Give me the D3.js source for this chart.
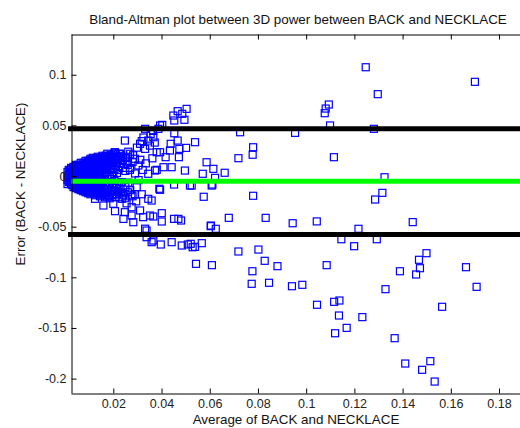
<!DOCTYPE html>
<html>
<head>
<meta charset="utf-8">
<script src="https://cdn.jsdelivr.net/npm/d3@7/dist/d3.min.js"></script>
<style>
  body { margin: 0; background: #fff; }
  svg { display: block; font-family: "Liberation Sans", Arial, sans-serif; }
</style>
</head>
<body>
<svg id="chart" width="520" height="428"></svg>
<script>
// Bland-Altman: [average, difference] pairs
const denseCluster = [
  [0.001, -0.004], [0.001, 0.000], [0.001, 0.004], [0.001, -0.008],
  [0.002, -0.006], [0.002, -0.002], [0.002, 0.002], [0.002, 0.006],
  [0.003, -0.009], [0.003, -0.005], [0.003, -0.001], [0.003, 0.003], [0.003, 0.007],
  [0.004, -0.010], [0.004, -0.006], [0.004, -0.002], [0.004, 0.002], [0.004, 0.006], [0.004, 0.009],
  [0.005, -0.011], [0.005, -0.007], [0.005, -0.003], [0.005, 0.001], [0.005, 0.005], [0.005, 0.010],
  [0.006, -0.012], [0.006, -0.008], [0.006, -0.004], [0.006, 0.000], [0.006, 0.004], [0.006, 0.008], [0.006, 0.011],
  [0.007, -0.013], [0.007, -0.009], [0.007, -0.005], [0.007, -0.001], [0.007, 0.003], [0.007, 0.007], [0.007, 0.011],
  [0.008, -0.014], [0.008, -0.010], [0.008, -0.006], [0.008, -0.002], [0.008, 0.002], [0.008, 0.006], [0.008, 0.010], [0.008, 0.013],
  [0.009, -0.015], [0.009, -0.011], [0.009, -0.007], [0.009, -0.003], [0.009, 0.001], [0.009, 0.005], [0.009, 0.009], [0.009, 0.013],
  [0.010, -0.016], [0.010, -0.012], [0.010, -0.008], [0.010, -0.004], [0.010, 0.000], [0.010, 0.004], [0.010, 0.008], [0.010, 0.012], [0.010, 0.015],
  [0.011, -0.014], [0.011, -0.009], [0.011, 0.003], [0.011, 0.010], [0.011, 0.016],
  [0.012, -0.017], [0.012, -0.011], [0.012, -0.005], [0.012, 0.001], [0.012, 0.007], [0.012, 0.013],
  [0.013, -0.015], [0.013, -0.008], [0.013, 0.005], [0.013, 0.011], [0.013, 0.017],
  [0.014, -0.018], [0.014, -0.012], [0.014, -0.003], [0.014, 0.002], [0.014, 0.009], [0.014, 0.014],
  [0.015, -0.016], [0.015, -0.009], [0.015, 0.006], [0.015, 0.012], [0.015, 0.018],
  [0.016, -0.019], [0.016, -0.013], [0.016, -0.004], [0.016, 0.003], [0.016, 0.010], [0.016, 0.016],
  [0.017, -0.017], [0.017, -0.007], [0.017, 0.007], [0.017, 0.013], [0.017, 0.020],
  [0.018, -0.020], [0.018, -0.011], [0.018, 0.001], [0.018, 0.011], [0.018, 0.017],
  [0.019, -0.014], [0.019, -0.003], [0.019, 0.008], [0.019, 0.015], [0.019, 0.021],
  [0.020, -0.018], [0.020, -0.009], [0.020, 0.004], [0.020, 0.013], [0.020, 0.019],
  [0.021, -0.021], [0.021, -0.012], [0.021, 0.010], [0.021, 0.022],
  [0.022, -0.016], [0.022, 0.006], [0.022, 0.017],
  [0.023, -0.013], [0.023, 0.012], [0.023, 0.020],
  [0.024, -0.019], [0.024, 0.008], [0.024, 0.016],
  [0.026, -0.016], [0.026, 0.011], [0.026, 0.019],
  [0.028, 0.014], [0.028, -0.020]
];

// points in between the ones above (the blob reads as solid blue)
const denseFill = [
  [0.0015, -0.006], [0.0015, -0.002], [0.0015, 0.002], [0.0015, 0.006],
  [0.0025, -0.008], [0.0025, -0.004], [0.0025, 0.000], [0.0025, 0.004], [0.0025, 0.008],
  [0.0035, -0.011], [0.0035, -0.007], [0.0035, -0.003], [0.0035, 0.001], [0.0035, 0.005], [0.0035, 0.009],
  [0.0045, -0.012], [0.0045, -0.008], [0.0045, -0.004], [0.0045, 0.000], [0.0045, 0.004], [0.0045, 0.008], [0.0045, 0.011],
  [0.0055, -0.013], [0.0055, -0.009], [0.0055, -0.005], [0.0055, -0.001], [0.0055, 0.003], [0.0055, 0.007], [0.0055, 0.011],
  [0.0065, -0.014], [0.0065, -0.010], [0.0065, -0.006], [0.0065, -0.002], [0.0065, 0.002], [0.0065, 0.006], [0.0065, 0.010], [0.0065, 0.013],
  [0.0075, -0.015], [0.0075, -0.011], [0.0075, -0.007], [0.0075, -0.003], [0.0075, 0.001], [0.0075, 0.005], [0.0075, 0.009], [0.0075, 0.013],
  [0.0085, -0.016], [0.0085, -0.012], [0.0085, -0.008], [0.0085, -0.004], [0.0085, 0.000], [0.0085, 0.004], [0.0085, 0.008], [0.0085, 0.012], [0.0085, 0.015],
  [0.0095, -0.017], [0.0095, -0.013], [0.0095, -0.009], [0.0095, -0.005], [0.0095, -0.001], [0.0095, 0.003], [0.0095, 0.007], [0.0095, 0.011], [0.0095, 0.015],
  [0.0105, -0.018], [0.0105, -0.014], [0.0105, -0.010], [0.0105, -0.006], [0.0105, -0.002], [0.0105, 0.002], [0.0105, 0.006], [0.0105, 0.010], [0.0105, 0.014], [0.0105, 0.017],
  [0.0115, -0.016], [0.0115, -0.012], [0.0115, -0.007], [0.0115, -0.002], [0.0115, 0.005], [0.0115, 0.008], [0.0115, 0.013], [0.0115, 0.018],
  [0.0125, -0.019], [0.0125, -0.014], [0.0125, -0.008], [0.0125, -0.002], [0.0125, 0.004], [0.0125, 0.010], [0.0125, 0.016],
  [0.0135, -0.017], [0.0135, -0.011], [0.0135, -0.005], [0.0135, 0.000], [0.0135, 0.007], [0.0135, 0.014], [0.0135, 0.019],
  [0.0145, -0.020], [0.0145, -0.015], [0.0145, -0.008], [0.0145, 0.000], [0.0145, 0.005], [0.0145, 0.011], [0.0145, 0.017],
  [0.0155, -0.018], [0.0155, -0.012], [0.0155, -0.006], [0.0155, 0.002], [0.0155, 0.009], [0.0155, 0.015], [0.0155, 0.020],
  [0.0165, -0.021], [0.0165, -0.016], [0.0165, -0.009], [0.0165, 0.000], [0.0165, 0.006], [0.0165, 0.013], [0.0165, 0.019],
  [0.0175, -0.019], [0.0175, -0.013], [0.0175, -0.003], [0.0175, 0.004], [0.0175, 0.010], [0.0175, 0.016], [0.0175, 0.022],
  [0.0185, -0.022], [0.0185, -0.016], [0.0185, -0.007], [0.0185, 0.006], [0.0185, 0.014], [0.0185, 0.020],
  [0.0195, -0.019], [0.0195, -0.011], [0.0195, 0.001], [0.0195, 0.011], [0.0195, 0.018],
  [0.0205, -0.015], [0.0205, -0.005], [0.0205, 0.007], [0.0205, 0.016], [0.0205, 0.023],
  [0.0215, -0.018], [0.0215, -0.008], [0.0215, 0.003], [0.0215, 0.013], [0.0215, 0.019],
  [0.0225, -0.021], [0.0225, -0.010], [0.0225, 0.009], [0.0225, 0.022],
  [0.0235, -0.017], [0.0235, -0.006], [0.0235, 0.015],
  [0.025, -0.022], [0.025, -0.011], [0.025, 0.005], [0.025, 0.018],
  [0.027, -0.014], [0.027, 0.008], [0.027, 0.022],
  [0.029, -0.018], [0.029, 0.017]
];

const midCluster = [
  [0.0117, 0.0153], [0.0159, 0.017], [0.0186, 0.0186], [0.0207, 0.0235], [0.0221, 0.0186], [0.0145, 0.012],
  [0.0124, -0.0225], [0.0159, -0.0291], [0.020, -0.0274], [0.0235, -0.0225], [0.0207, -0.0347], [0.0248, -0.0357],
  [0.0276, -0.0308], [0.0242, -0.0423], [0.0276, -0.039], [0.0311, -0.034], [0.0283, -0.0456], [0.0324, -0.0406],
  [0.0352, -0.039], [0.0338, -0.0538], [0.0332, -0.052], [0.0338, -0.0604], [0.0359, -0.0653],
  [0.0332, 0.0466], [0.0394, 0.0499], [0.0248, 0.035], [0.0311, 0.0318], [0.0345, 0.035], [0.0332, 0.0268],
  [0.038, 0.0235], [0.0435, 0.0252], [0.0228, 0.0219], [0.0304, 0.0104], [0.0345, 0.0022], [0.038, 0.0061],
  [0.0269, 0.0061], [0.0391, -0.0126], [0.0345, -0.0225], [0.0297, -0.011],
  [0.0325, 0.038], [0.0355, 0.0415], [0.0365, 0.0445], [0.0318, 0.0345], [0.0352, 0.030], [0.0372, 0.033],
  [0.0298, 0.028], [0.0262, 0.024], [0.0282, 0.0205], [0.0258, 0.0135], [0.0312, 0.016], [0.0335, 0.0125],
  [0.0362, 0.0175], [0.029, 0.0025], [0.0322, 0.006], [0.0305, -0.004], [0.0262, -0.0065], [0.0318, -0.018],
  [0.0275, -0.0185], [0.0255, -0.027], [0.0295, -0.025],
  [0.0504, 0.0663], [0.0467, 0.064], [0.0486, 0.0614], [0.0449, 0.0597], [0.0495, 0.0555], [0.0453, 0.0548],
  [0.0403, 0.0505], [0.0387, 0.0466], [0.0453, 0.0422], [0.0726, 0.0432], [0.0366, 0.0383], [0.0539, 0.0334],
  [0.0467, 0.035], [0.0438, 0.0318], [0.0502, 0.0278], [0.0474, 0.0268], [0.0719, 0.0176], [0.0394, 0.0235],
  [0.0417, 0.0186], [0.0472, 0.0186], [0.0587, 0.0136], [0.0615, 0.0071], [0.0662, 0.0032], [0.0571, 0.0022],
  [0.0622, -0.0018], [0.0497, 0.0054], [0.0442, 0.0087], [0.0408, 0.0087], [0.0373, 0.0054], [0.0394, -0.0136],
  [0.0452, -0.0084], [0.0518, -0.0094], [0.0608, -0.0094], [0.0575, -0.0205], [0.0359, -0.0242], [0.0679, -0.0413],
  [0.0401, -0.0367], [0.0366, -0.040], [0.0401, -0.0449], [0.0452, -0.0423], [0.0481, -0.0439], [0.047, -0.0423],
  [0.0605, -0.0489], [0.0625, -0.0521], [0.0604, -0.0495], [0.0366, -0.0637], [0.0397, -0.0676], [0.0442, -0.0653],
  [0.0484, -0.0686], [0.0509, -0.0676], [0.0529, -0.0703], [0.0567, -0.0663], [0.0539, -0.0699], [0.0521, -0.0669],
  [0.0719, -0.0745], [0.0543, -0.0867], [0.0609, -0.088], [0.0525, -0.0094], [0.0611, -0.0084]
];

const outliers = [
  [0.1247, 0.1074], [0.170, 0.093], [0.1297, 0.0808], [0.1094, 0.0706], [0.1081, 0.0666], [0.1077, 0.062],
  [0.1099, 0.0499], [0.0954, 0.0426], [0.1281, 0.0466], [0.1115, 0.0186], [0.1325, -0.0012], [0.1316, -0.0166],
  [0.1286, -0.0232], [0.078, 0.0284], [0.0778, 0.021], [0.078, -0.0195], [0.0832, -0.0413], [0.0944, -0.0466],
  [0.1044, -0.0448], [0.1442, -0.0455], [0.1217, -0.0521], [0.1146, -0.0624], [0.1293, -0.0624], [0.0802, -0.0726],
  [0.1199, -0.0693], [0.0828, -0.0837], [0.0881, -0.089], [0.0777, -0.094], [0.1085, -0.088], [0.0846, -0.1054],
  [0.0774, -0.1064], [0.0941, -0.1088], [0.0984, -0.1074], [0.1329, -0.1117], [0.1389, -0.094], [0.1456, -0.0972],
  [0.1472, -0.091], [0.1468, -0.0827], [0.1499, -0.0762], [0.1663, -0.090], [0.1707, -0.1094], [0.1564, -0.1291],
  [0.1045, -0.1271], [0.1116, -0.1242], [0.1138, -0.1229], [0.1136, -0.1377], [0.1233, -0.1393], [0.1168, -0.1499],
  [0.112, -0.1552], [0.1367, -0.1601], [0.1411, -0.1851], [0.1481, -0.1913], [0.1515, -0.1828], [0.1533, -0.2029]
];

const meanDiff = -0.0051;
const limitsOfAgreement = [0.0466, -0.0578];

const xTicks = [0.02, 0.04, 0.06, 0.08, 0.1, 0.12, 0.14, 0.16, 0.18];
const yTicks = [0.1, 0.05, 0, -0.05, -0.1, -0.15, -0.2];
const xDomain = [0.00245, 0.1887];
const yDomain = [-0.2142, 0.1402];

const margin = { left: 71, right: 0, top: 34, bottom: 35 };
const W = 520, H = 428;

const svg = d3.select('#chart');

const x = d3.scaleLinear().domain(xDomain).range([margin.left, W - margin.right]);
const y = d3.scaleLinear().domain(yDomain).range([H - margin.bottom, margin.top]);

// markers
const points = denseCluster.concat(denseFill, midCluster, outliers);
svg.append('g').attr('class', 'points')
  .selectAll('rect').data(points).enter().append('rect')
    .attr('x', d => x(d[0]) - 3.5)
    .attr('y', d => y(d[1]) - 3.5)
    .attr('width', 7).attr('height', 7)
    .attr('fill', 'none')
    .attr('stroke', '#0000ff')
    .attr('stroke-width', 1.2)

// limits of agreement and mean difference
svg.append('g').selectAll('line').data(limitsOfAgreement).enter().append('line')
    .attr('x1', x.range()[0] - 3).attr('x2', W + 2)
    .attr('y1', d => y(d)).attr('y2', d => y(d))
    .attr('stroke', '#000').attr('stroke-width', 5)

svg.append('line')
    .attr('x1', x.range()[0]).attr('x2', W + 2)
    .attr('y1', y(meanDiff)).attr('y2', y(meanDiff))
    .attr('stroke', '#00ff00').attr('stroke-width', 5)

// axes (ticks drawn inward, MATLAB style)
const fmt = d => String(d)
svg.append('g').attr('transform', 'translate(0,' + (H - margin.bottom + 0.5) + ')')
  .call(d3.axisBottom(x).tickValues(xTicks).tickSizeInner(-5).tickSizeOuter(0).tickPadding(6).tickFormat(fmt))
svg.append('g').attr('transform', 'translate(0,' + (margin.top + 0.5) + ')')
  .call(d3.axisTop(x).tickValues(xTicks).tickSizeInner(-5).tickSizeOuter(0).tickFormat(''))
svg.append('g').attr('transform', 'translate(' + (margin.left + 0.5) + ',0)')
  .call(d3.axisLeft(y).tickValues(yTicks).tickSizeInner(-5).tickSizeOuter(0).tickPadding(5).tickFormat(fmt))

svg.selectAll('.domain').attr('stroke', '#000')
svg.selectAll('.tick line').attr('stroke', '#000')
svg.selectAll('.tick text').attr('fill', '#222').style('font-size', '12.5px')
  .style('font-family', '"Liberation Sans", Arial, sans-serif')

// labels
svg.append('text')
    .attr('x', 298).attr('y', 24)
    .attr('text-anchor', 'middle')
    .style('font-size', '13.4px').attr('fill', '#111')
    .text('Bland-Altman plot between 3D power between BACK and NECKLACE')

svg.append('text')
    .attr('x', 296).attr('y', 424)
    .attr('text-anchor', 'middle')
    .style('font-size', '13.4px').attr('fill', '#111')
    .text('Average of BACK and NECKLACE')

svg.append('text')
    .attr('transform', 'translate(25,' + 184 + ') rotate(-90)')
    .attr('text-anchor', 'middle')
    .style('font-size', '13.4px').attr('fill', '#111')
    .text('Error (BACK - NECKLACE)')
</script>
</body>
</html>
